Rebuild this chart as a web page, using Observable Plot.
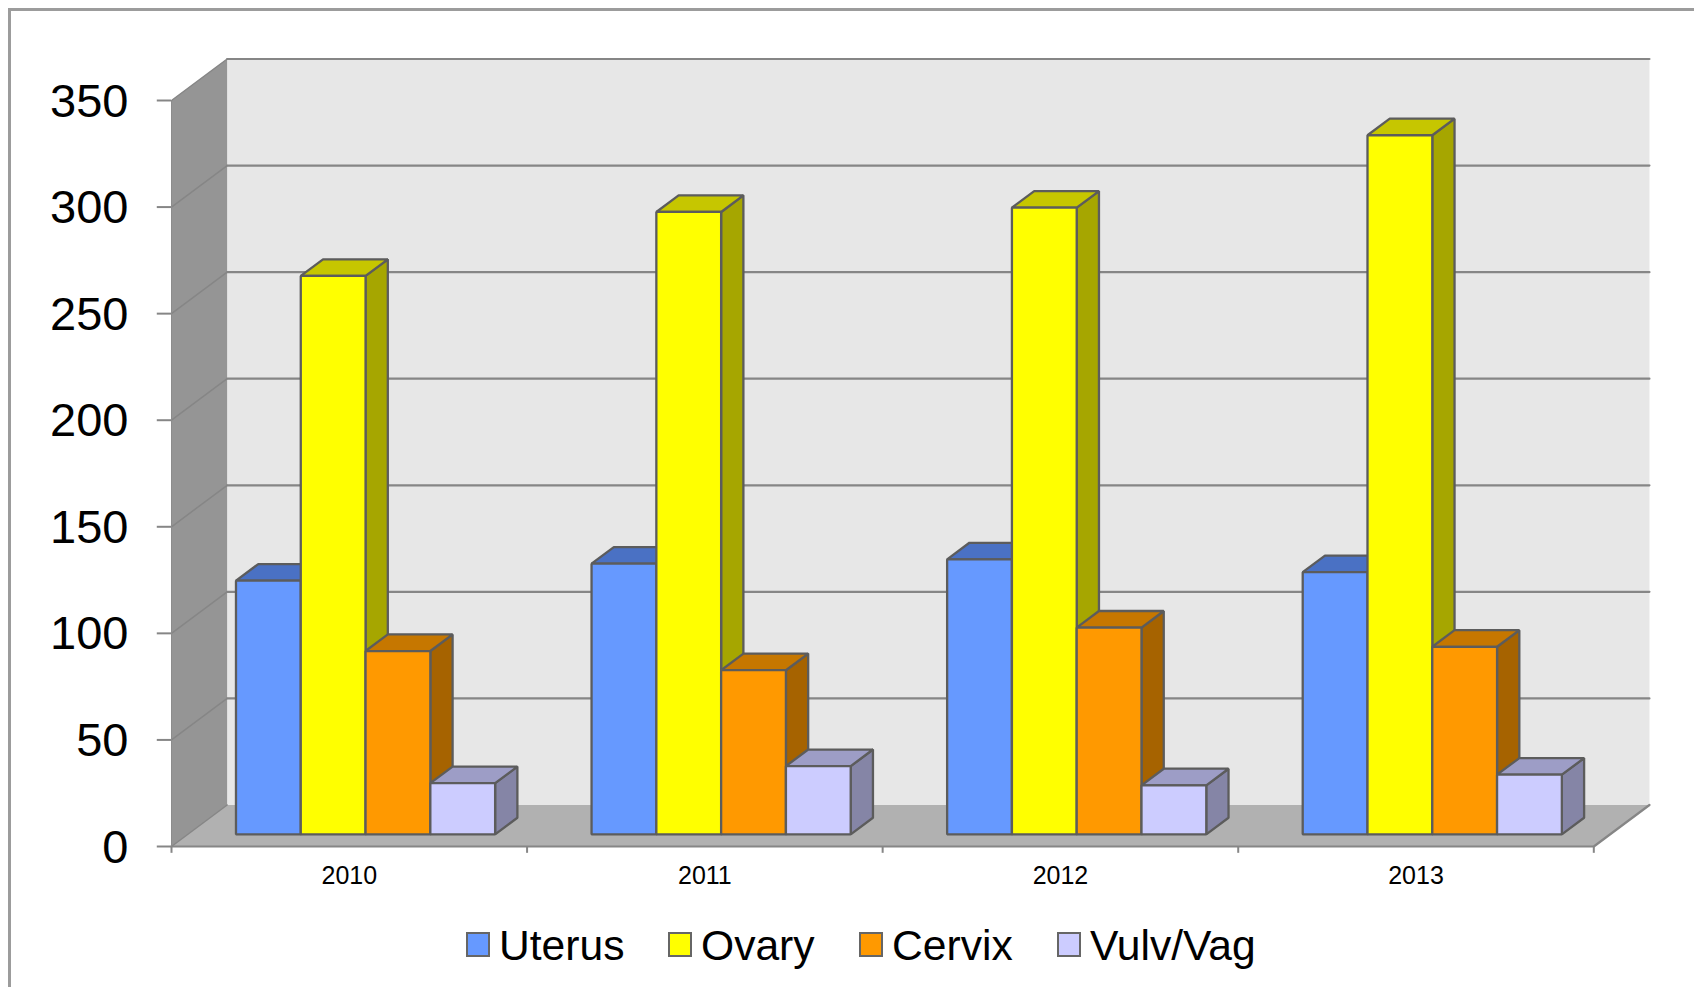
<!DOCTYPE html>
<html><head><meta charset="utf-8">
<script src="https://cdn.jsdelivr.net/npm/d3@7"></script>
<script src="https://cdn.jsdelivr.net/npm/@observablehq/plot@0.6"></script>
<style>
html,body{margin:0;padding:0;background:#fff;overflow:hidden;width:1694px;height:987px;font-family:"Liberation Sans",Arial,sans-serif}
#frame{position:absolute;left:8px;top:8px;width:1700px;height:1000px;border-left:3px solid #9c9c9c;border-top:3px solid #9c9c9c}
#chart{position:absolute;left:0;top:0}
#legend{position:absolute;left:0;top:905px;width:1694px;height:82px}
.item{position:absolute;top:28px;display:flex;align-items:center;height:25px;font-size:42.6px;color:#000;line-height:25px}
.sw{width:20px;height:21px;border:2px solid #666;margin-right:9px;flex:none;position:relative;top:-1px}
</style></head><body>
<div id="frame"></div><div id="chart"></div><div id="legend"></div>
<script>
const years = ["2010","2011","2012","2013"];
const seriesNames = ["Uterus","Ovary","Cervix","Vulv/Vag"];
const uterus = [119,127,129,123];
const ovary = [262,292,294,328];
const cervix = [86,77,97,88];
const vulvVag = [24,32,23,28];
const yTicks = [0,50,100,150,200,250,300,350];

const seriesValues = [uterus,ovary,cervix,vulvVag];
const fronts = ["#6699FF","#FFFF00","#FF9900","#CCCCFF"];
const tops = ["#4A71C4","#C6C600","#C67700","#9D9DC6"];
const sides = ["#3F5FA6","#A6A600","#A66300","#8585A6"];
const legendX = [466,668,859,1057];

// oblique projection: full depth shifts by these amounts in data units
const depthX = 0.1565, depthY = 19.47;
const barW = 0.1822, pad = 0.1355, dFront = 0.293, dBack = 0.693;
const P = (x,y,d,id,fill) => ({x:x+depthX*d, y:y+depthY*d, id, fill});
const quad = (id,fill,pts) => pts.map(([x,y,d]) => P(x,y,d,id,fill));
const maxY = 350, n = years.length;

const walls = [
  ...quad("back","#E7E7E7",[[0,0,1],[n,0,1],[n,maxY,1],[0,maxY,1]]),
  ...quad("left","#959595",[[0,0,0],[0,0,1],[0,maxY,1],[0,maxY,0]]),
  ...quad("floor","#B1B1B1",[[0,0,0],[n,0,0],[n,0,1],[0,0,1]])
];
const gridBack = yTicks.filter(v=>v>0).flatMap(v=>[P(0,v,1,"b"+v),P(n,v,1,"b"+v)]);
const gridLeft = yTicks.flatMap(v=>[P(0,v,0,"l"+v),P(0,v,1,"l"+v)]);
const edges = [P(0,0,0,"front"),P(n,0,0,"front"),P(n,0,1,"front")];

const faces = [];
years.forEach((yr,g)=>{
  seriesNames.forEach((name,s)=>{
    const v = seriesValues[s][g];
    const x0 = g+pad+s*barW, x1 = x0+barW;
    const id = yr+name;
    faces.push(...quad(id+"side",sides[s],[[x1,0,dFront],[x1,0,dBack],[x1,v,dBack],[x1,v,dFront]]));
    faces.push(...quad(id+"top",tops[s],[[x0,v,dFront],[x1,v,dFront],[x1,v,dBack],[x0,v,dBack]]));
    faces.push(...quad(id+"front",fronts[s],[[x0,0,dFront],[x1,0,dFront],[x1,v,dFront],[x0,v,dFront]]));
  });
});

const line = {x:"x",y:"y",z:"id"};
const plot = Plot.plot({
  width:1694,height:905,
  marginLeft:171,marginRight:100.7,marginTop:100,marginBottom:59,
  style:{fontFamily:'"Liberation Sans",Arial,sans-serif',background:"transparent",overflow:"visible"},
  x:{domain:[0,n]},
  y:{domain:[0,maxY]},
  marks:[
    Plot.line(walls,{...line,fill:"fill",stroke:"none",curve:"linear-closed"}),
    Plot.line(gridLeft,{...line,stroke:"#868686",strokeWidth:1.5}),
    Plot.line(gridBack,{...line,stroke:"#868686",strokeWidth:2.2}),
    Plot.line(edges,{...line,stroke:"#868686",strokeWidth:2.2}),
    Plot.ruleX([0,1,2,3,4],{y1:0,y2:-3.2,stroke:"#868686",strokeWidth:2}),
    Plot.ruleX([0],{y1:0,y2:maxY,stroke:"#8c8c8c",strokeWidth:1}),
    Plot.ruleY(yTicks,{x1:-0.04,x2:0,stroke:"#868686",strokeWidth:2}),
    Plot.line(faces,{...line,fill:"fill",stroke:"#5c5c5c",strokeWidth:2.3,curve:"linear-closed",strokeLinejoin:"miter"}),
    Plot.axisY({ticks:yTicks,label:null,tickSize:0,tickPadding:43,fontSize:47,dy:1})
    ,Plot.axisX({ticks:years.map((_,i)=>i+0.5),tickFormat:v=>years[v-0.5],label:null,tickSize:0,tickPadding:20,fontSize:25})
  ]
});
document.getElementById("chart").append(plot);

const legend = document.getElementById("legend");
seriesNames.forEach((name,i)=>{
  const it = document.createElement("div");
  it.className="item";
  it.style.left = legendX[i]+"px";
  const sw = document.createElement("span");
  sw.className="sw"; sw.style.background = fronts[i];
  it.append(sw, document.createTextNode(name));
  legend.append(it);
});
</script>
</body></html>
